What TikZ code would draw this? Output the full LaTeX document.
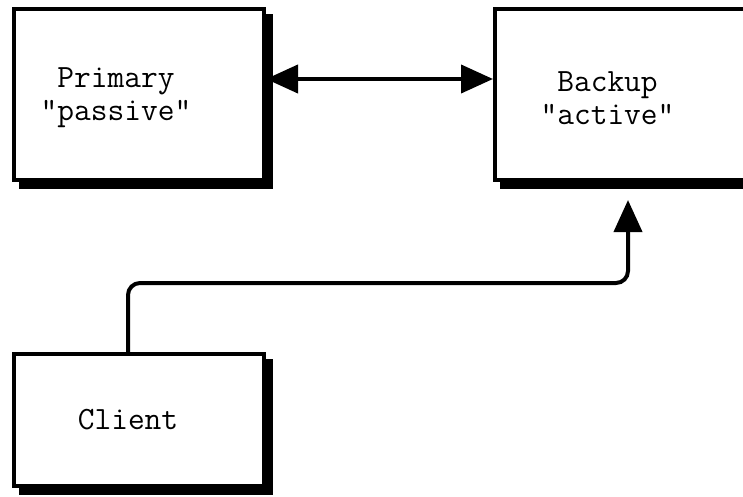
\documentclass[tikz,border=0pt]{standalone}
\usepackage{tikz}
\usetikzlibrary{arrows.meta, positioning, shadows}

\begin{document}
\begin{tikzpicture}[
    x=1pt, y=-1pt,
    server/.style={rectangle, draw=black, fill=white, line width=4pt, minimum width=250pt, minimum height=171pt,
        drop shadow={shadow xshift=7pt, shadow yshift=-7pt, opacity=1, fill=black, draw=black, line width=4pt}},
    tag/.style={font=\fontsize{32.5}{33}\selectfont\ttfamily, align=center, inner sep=0pt},
    arrow/.style={line width=4pt, -{Triangle[length=32pt, width=28pt]}},
    twoway/.style={line width=4pt, {Triangle[length=32pt, width=28pt]}-{Triangle[length=32pt, width=28pt]}},
]
    \useasboundingbox (0,0) rectangle (743,497);

    % Servers
    \node (primary) [server] at (139,94.5) {};
    \node (backup) [server, right=227pt of primary] {};
    \node (client) [server, minimum height=132pt, below=170pt of primary] {};

    % Labels
    \node (primary_text) [tag] at ([xshift=-23pt, yshift=-3.5pt]primary.center) {Primary\\"passive"};
    \node (backup_text) [tag] at ([xshift=-12.5pt, yshift=-3.5pt]backup.center) {Backup\\"active"};
    \node (client_text) [tag] at ([xshift=-11pt]client.center) {Client};

    \draw [twoway] ([yshift=15.5pt]primary.east) -- ([yshift=15.5pt]backup.west);
    \draw [arrow, rounded corners=12pt] ([xshift=-11pt]client.north) -- ++(0,-69) -| ([xshift=8pt, yshift=-18pt]backup.south);

\end{tikzpicture}
\end{document}
